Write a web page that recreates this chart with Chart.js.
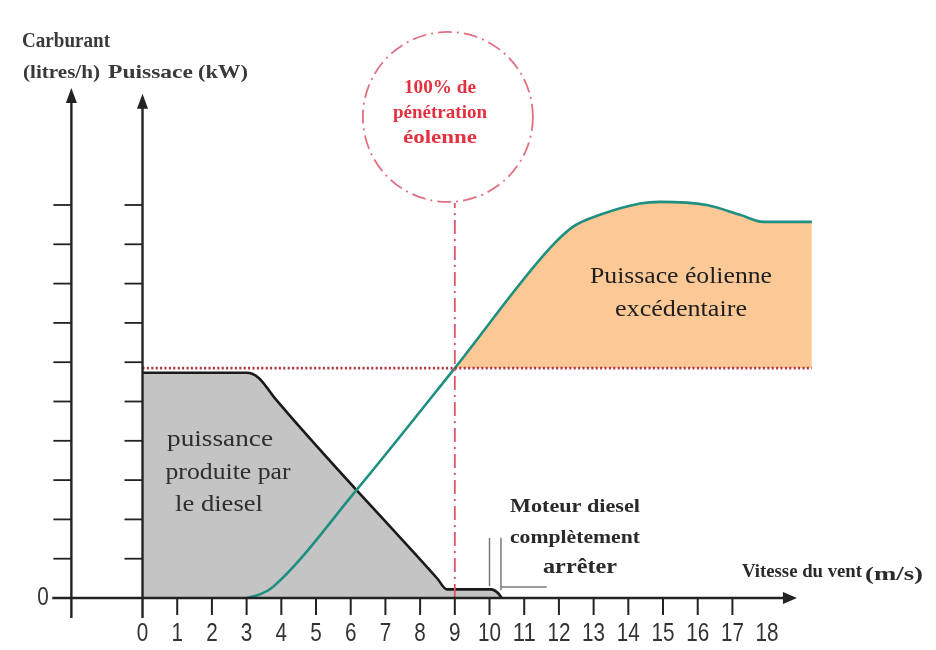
<!DOCTYPE html>
<html>
<head>
<meta charset="utf-8">
<script src="https://cdn.jsdelivr.net/npm/chart.js@4.4.0/dist/chart.umd.min.js"></script>
<style>
  html, body { margin: 0; padding: 0; background: #fff; }
  #wrap { width: 936px; height: 650px; position: relative; }
</style>
</head>
<body>
<div id="wrap"><canvas id="myChart"></canvas></div>
<script>
// valeurs (vitesse du vent en m/s, puissance en graduations)
const xTickLabels = ['0','1','2','3','4','5','6','7','8','9','10','11','12','13','14','15','16','17','18'];
const xTickMarks = [1,2,3,4,5,6,7,8,9,10,11,12,13,14,15,16,17];
const yTickMarks = [1,2,3,4,5,6,7,8,9,10];

const dieselX = [0, 3.0, 3.35, 3.8, 8.5, 8.77, 10.05, 10.25, 10.35];
const dieselY = [5.73, 5.73, 5.6, 5.1, 0.49, 0.22, 0.22, 0.12, 0];

const windX = [3.0, 3.4, 3.77, 6.17, 9.0, 11.74, 12.41, 13.18, 14.34, 14.91, 16.26, 17.22, 17.89, 19.29];
const windY = [0, 0.1, 0.29, 2.75, 5.85, 8.9, 9.45, 9.75, 10.04, 10.08, 10.0, 9.75, 9.57, 9.57];

const penetrationLevel = 5.85;   // ligne pointillée rouge
const penetrationSpeed = 9;      // 100% de pénétration éolienne
const penetrationTop = 10.05;

// petits traits de l'annotation "Moteur diesel complètement arrêter"
const stopLineAX = [10.0, 10.0];
const stopLineAY = [0.3, 1.53];
const stopLineBX = [10.33, 10.33];
const stopLineBY = [0.2, 1.53];
const stopLineCX = [10.33, 11.65];
const stopLineCY = [0.28, 0.28];

function pts(xs, ys) { return xs.map((v, i) => ({x: v, y: ys[i]})); }

function fitText(ctx, str, x, y, font, width, align) {
  ctx.save();
  ctx.font = font;
  const w = ctx.measureText(str).width;
  const s = width / w;
  ctx.textBaseline = 'middle';
  ctx.textAlign = 'left';
  let left = x;
  if (align === 'center') left = x - width / 2;
  ctx.translate(left, y);
  ctx.scale(s, 1);
  ctx.fillText(str, 0, 0);
  ctx.restore();
}

const schemaPlugin = {
  id: 'schema',
  afterDatasetsDraw(chart) {
    const ctx = chart.ctx;
    const xs = chart.scales.x, ys = chart.scales.y;
    const px = v => xs.getPixelForValue(v);
    const py = v => ys.getPixelForValue(v);
    const fuelAxis = -2.05, powerAxis = 0;
    const y0 = py(0), yBottom = py(-0.51);

    ctx.save();
    ctx.strokeStyle = '#222';
    ctx.fillStyle = '#222';
    ctx.lineWidth = 2.4;

    // axe horizontal
    const xEnd = px(18.86);
    ctx.beginPath();
    ctx.moveTo(px(-2.6), y0);
    ctx.lineTo(xEnd - 10, y0);
    ctx.stroke();
    ctx.beginPath();
    ctx.moveTo(xEnd, y0);
    ctx.lineTo(xEnd - 14, y0 - 6);
    ctx.lineTo(xEnd - 14, y0 + 6);
    ctx.closePath();
    ctx.fill();

    // axes verticaux
    [[fuelAxis, 12.98], [powerAxis, 12.83]].forEach(([ax, top]) => {
      const xa = px(ax), yt = py(top);
      ctx.beginPath();
      ctx.moveTo(xa, yBottom);
      ctx.lineTo(xa, yt + 10);
      ctx.stroke();
      ctx.beginPath();
      ctx.moveTo(xa, yt);
      ctx.lineTo(xa - 5.5, yt + 15);
      ctx.lineTo(xa + 5.5, yt + 15);
      ctx.closePath();
      ctx.fill();
      ctx.lineWidth = 1.8;
      yTickMarks.forEach(t => {
        ctx.beginPath();
        ctx.moveTo(xa - 18, py(t));
        ctx.lineTo(xa, py(t));
        ctx.stroke();
      });
      ctx.lineWidth = 2.4;
    });

    // graduations horizontales
    ctx.lineWidth = 2;
    xTickMarks.forEach(t => {
      ctx.beginPath();
      ctx.moveTo(px(t), y0);
      ctx.lineTo(px(t), y0 + 17);
      ctx.stroke();
    });

    ctx.fillStyle = '#333';
    xTickLabels.forEach((lab, i) => {
      fitText(ctx, lab, px(i), 634, '26px "Liberation Sans", Arial, sans-serif', lab.length * 11.5, 'center');
    });
    fitText(ctx, '0', 43, y0, '26px "Liberation Sans", Arial, sans-serif', 11.5, 'center');

    // cercle "100% de pénétration éolenne"
    ctx.strokeStyle = '#e0707e';
    ctx.lineWidth = 1.8;
    ctx.setLineDash([14, 5, 2, 5]);
    ctx.beginPath();
    ctx.arc(px(8.8), py(12.24), 85, 0, Math.PI * 2);
    ctx.stroke();
    ctx.setLineDash([]);

    const serif = '"Liberation Serif", "DejaVu Serif", serif';
    ctx.fillStyle = '#e2323f';
    fitText(ctx, '100% de', 440, 88, 'bold 19px ' + serif, 72, 'center');
    fitText(ctx, 'pénétration', 440, 113, 'bold 19px ' + serif, 94, 'center');
    fitText(ctx, 'éolenne', 440, 138, 'bold 19px ' + serif, 74, 'center');

    ctx.fillStyle = '#3a3a3a';
    fitText(ctx, 'Carburant', 22, 42, 'bold 20px ' + serif, 88);
    fitText(ctx, '(litres/h)', 23, 73, 'bold 19px ' + serif, 77);
    fitText(ctx, 'Puissace', 108, 73, 'bold 19px ' + serif, 85);
    fitText(ctx, '(kW)', 198, 73, 'bold 19px ' + serif, 50);

    ctx.fillStyle = '#1e1e1e';
    fitText(ctx, 'Puissace éolienne', 681, 277, '23px ' + serif, 182, 'center');
    fitText(ctx, 'excédentaire', 681, 310, '23px ' + serif, 132, 'center');

    ctx.fillStyle = '#2e2e2e';
    fitText(ctx, 'puissance', 220, 440, '23px ' + serif, 106, 'center');
    fitText(ctx, 'produite par', 228, 473, '23px ' + serif, 125, 'center');
    fitText(ctx, 'le diesel', 219, 505, '23px ' + serif, 88, 'center');

    ctx.fillStyle = '#2a2a2a';
    fitText(ctx, 'Moteur diesel', 510, 507, 'bold 19px ' + serif, 130);
    fitText(ctx, 'complètement', 510, 538, 'bold 19px ' + serif, 130);
    fitText(ctx, 'arrêter', 543, 567, 'bold 22px ' + serif, 74);

    fitText(ctx, 'Vitesse du vent', 742, 572, 'bold 19px ' + serif, 120);
    fitText(ctx, '(m/s)', 865, 575, 'bold 18px ' + serif, 58);
    ctx.restore();
  }
};

const thin = {borderColor: '#7a7a7a', borderWidth: 1.5, pointRadius: 0, fill: false};

new Chart(document.getElementById('myChart'), {
  type: 'line',
  data: {
    datasets: [
      {
        data: pts([0, windX[windX.length - 1]], [penetrationLevel, penetrationLevel]),
        borderColor: '#b1323e', borderWidth: 2.6, borderDash: [2, 2.4],
        pointRadius: 0, fill: false
      },
      {
        data: pts([penetrationSpeed, penetrationSpeed], [0, penetrationTop]),
        borderColor: '#dc5566', borderWidth: 1.8, borderDash: [14, 5, 2, 5],
        pointRadius: 0, fill: false
      },
      Object.assign({data: pts(stopLineAX, stopLineAY)}, thin),
      Object.assign({data: pts(stopLineBX, stopLineBY)}, thin),
      Object.assign({data: pts(stopLineCX, stopLineCY)}, thin),
      {
        data: pts(windX, windY),
        borderColor: '#1f8f80', borderWidth: 2.6,
        cubicInterpolationMode: 'monotone', pointRadius: 0,
        fill: {target: {value: penetrationLevel}, above: '#fcc996', below: 'rgba(0,0,0,0)'}
      },
      {
        data: pts(dieselX, dieselY),
        borderColor: '#1a1a1a', borderWidth: 2.6,
        backgroundColor: '#c4c4c4',
        cubicInterpolationMode: 'monotone', pointRadius: 0,
        fill: 'origin'
      }
    ]
  },
  options: {
    responsive: true,
    maintainAspectRatio: false,
    animation: false,
    layout: {padding: 0},
    plugins: {legend: {display: false}, tooltip: {enabled: false}},
    scales: {
      x: {type: 'linear', display: false, min: -4.107, max: 22.867},
      y: {type: 'linear', display: false, min: -1.323, max: 15.216}
    }
  },
  plugins: [schemaPlugin]
});
</script>
</body>
</html>
